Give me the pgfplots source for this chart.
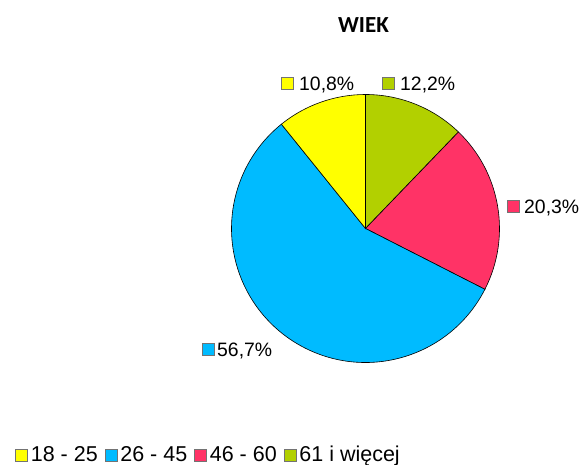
\documentclass[border=0pt]{standalone}
\usepackage{pgfplots}
\pgfplotsset{compat=1.18}
\usepackage{fontspec}
\setmainfont{Liberation Sans}
\newfontfamily\titlefont{Carlito}
\definecolor{cyel}{RGB}{255,255,0}
\definecolor{cblue}{RGB}{0,187,255}
\definecolor{cpink}{RGB}{255,51,102}
\definecolor{cgreen}{RGB}{178,208,0}
\begin{document}
\begin{tikzpicture}
\path[use as bounding box] (0,0) rectangle (584pt,465pt);
\begin{axis}[at={(0,0)}, anchor=south west, x=1pt, y=1pt,
  xmin=0, xmax=584, ymin=0, ymax=465, hide axis, clip=false, scale only axis,
  legend columns=4,
  legend style={at={(0.0257,0.003)}, anchor=south west, draw=none, fill=none, inner sep=0pt,
    font=\fontsize{21.5}{25}\selectfont,
    nodes={inner sep=0pt},
    /tikz/every odd column/.style={column sep=3pt},
    /tikz/every even column/.style={column sep=7pt}},
  legend cell align=left,
  legend image code/.code={\draw[#1, draw=black!55, line width=0.6pt] (0pt,-6pt) rectangle (12pt,6pt);}
]
\addlegendimage{fill=cyel}\addlegendentry{18 - 25}
\addlegendimage{fill=cblue}\addlegendentry{26 - 45}
\addlegendimage{fill=cpink}\addlegendentry{46 - 60}
\addlegendimage{fill=cgreen}\addlegendentry{61 i więcej}
% pie slices, clockwise from 12 o'clock
\gdef\pieA{90}
\foreach \v/\c in {12.2/cgreen,20.3/cpink,56.7/cblue,10.8/cyel}{
  \pgfmathsetmacro\pieB{\pieA-3.6*\v}
  \edef\temp{\noexpand\filldraw[fill=\c,draw=black,line width=0.6pt] (axis cs:365.5,236.5) -- ++(\pieA:134pt) arc[start angle=\pieA,end angle=\pieB,radius=134pt] -- cycle;}
  \temp
  \xdef\pieA{\pieB}
}
% data labels
\foreach \sx/\sy/\c in {281/376/cyel,382/376/cgreen,507/253/cpink,202/110/cblue}{
  \edef\temp{\noexpand\filldraw[fill=\c,draw=black!55,line width=0.6pt] (axis cs:\sx,\sy) rectangle ++(12pt,12pt);}
  \temp
}
\node[anchor=base west, inner sep=0pt, font=\fontsize{19.4}{23}\selectfont] at (axis cs:299,374) {10,8\%};
\node[anchor=base west, inner sep=0pt, font=\fontsize{19.4}{23}\selectfont] at (axis cs:400,374) {12,2\%};
\node[anchor=base west, inner sep=0pt, font=\fontsize{19.4}{23}\selectfont] at (axis cs:524,251) {20,3\%};
\node[anchor=base west, inner sep=0pt, font=\fontsize{19.4}{23}\selectfont] at (axis cs:217,108) {56,7\%};
\node[font=\titlefont\bfseries\fontsize{23}{27}\selectfont] at (axis cs:363.5,440) {WIEK};
\end{axis}
\end{tikzpicture}
\end{document}
